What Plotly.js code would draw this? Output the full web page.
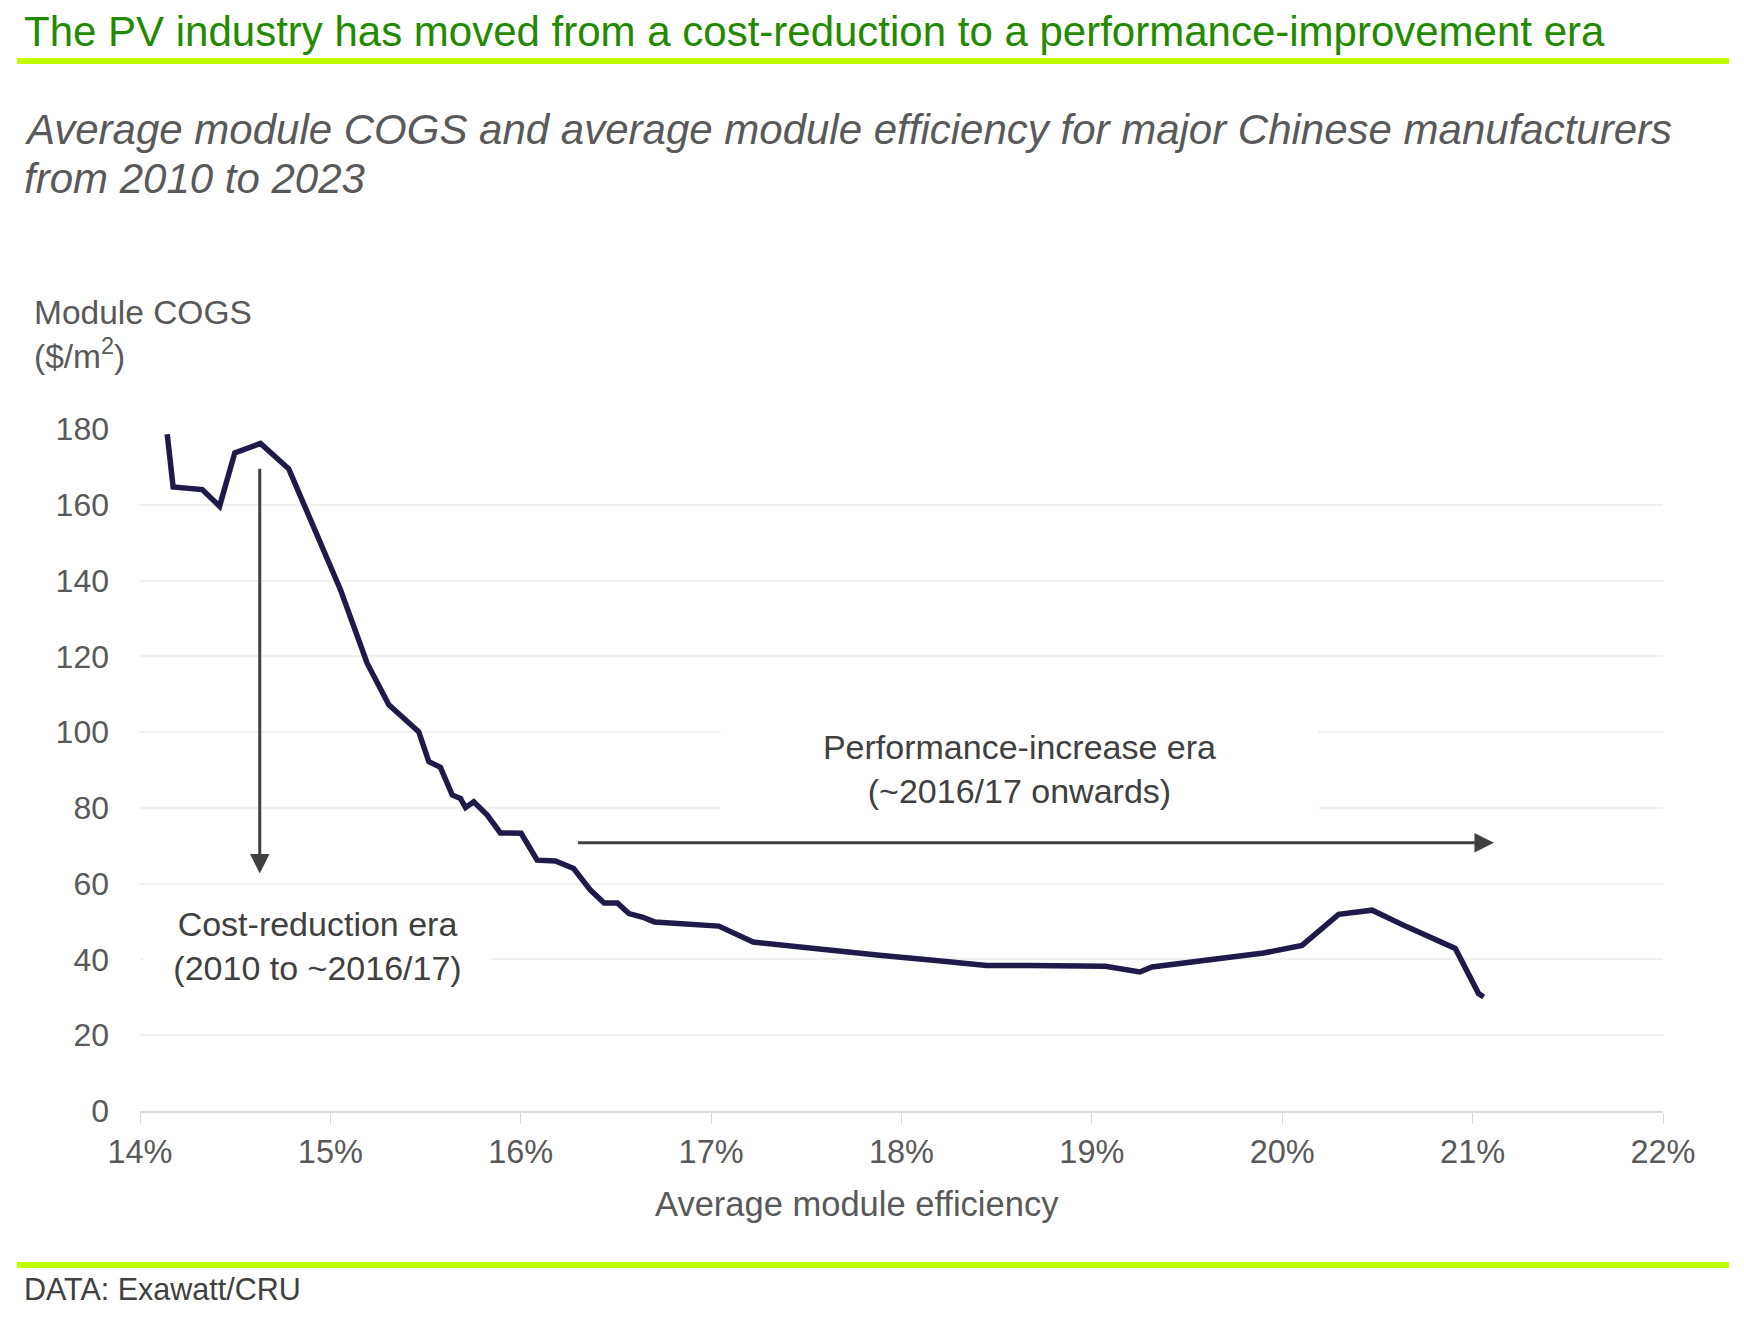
<!DOCTYPE html>
<html>
<head>
<meta charset="utf-8">
<script src="https://cdn.plot.ly/plotly-3.0.1.min.js"></script>
<style>html,body{margin:0;padding:0;background:#fff;}#chart{width:1744px;height:1317px;}</style>
</head>
<body>
<div id="chart"></div>
<script>
// Average module efficiency (%) and average module COGS ($/m2), major Chinese manufacturers, 2010-2023
const efficiency = [14.143, 14.174, 14.327, 14.418, 14.498, 14.633, 14.781, 14.913, 15.053, 15.193,
  15.307, 15.464, 15.517, 15.578, 15.640, 15.683, 15.710, 15.753, 15.824, 15.893,
  16.002, 16.086, 16.182, 16.278, 16.366, 16.438, 16.508, 16.568, 16.638, 16.703,
  16.839, 17.040, 17.221, 17.402, 17.643, 17.884, 18.166, 18.447, 18.669, 19.070,
  19.252, 19.316, 19.902, 20.104, 20.296, 20.472, 20.655, 20.909, 21.031, 21.058];
const cogs = [178.6, 164.7, 164.0, 159.6, 173.7, 176.2, 169.5, 154.3, 137.6, 118.2,
  107.2, 100.1, 92.2, 90.7, 83.4, 82.5, 80.1, 81.6, 78.1, 73.4,
  73.3, 66.2, 66.0, 64.0, 58.3, 54.9, 54.9, 52.1, 51.2, 49.9,
  49.6, 48.8, 44.6, 43.6, 42.4, 41.1, 39.8, 38.4, 38.4, 38.2,
  36.7, 38.0, 41.7, 43.7, 51.9, 53.0, 48.6, 42.9, 31.0, 30.1];
const xTicks = [14, 15, 16, 17, 18, 19, 20, 21, 22];
const yTicks = [0, 20, 40, 60, 80, 100, 120, 140, 160, 180];

const titleText = 'The PV industry has moved from a cost-reduction to a performance-improvement era';
const subtitleLine1 = 'Average module COGS and average module efficiency for major Chinese manufacturers';
const subtitleLine2 = 'from 2010 to 2023';
const yTitleLine1 = 'Module COGS';
const yTitleLine2 = '($/m<sup>2</sup>)';
const xTitleText = 'Average module efficiency';
const sourceText = 'DATA: Exawatt/CRU';
const costLabel = 'Cost-reduction era<br>(2010 to ~2016/17)';
const perfLabel = 'Performance-increase era<br>(~2016/17 onwards)';
// annotation anchor values (data units)
const costArrow = {x: 14.629, from: 169.9, to: 62.7};
const perfArrow = {y: 70.8, from: 16.293, to: 21.112};
const costText = {x: 14.93, y: 43.66};
const perfText = {x: 18.618, y: 90.3};

const W = 1744, H = 1317;
const M = {l: 140, r: 81, t: 429, b: 206};
const PW = W - M.l - M.r, PH = H - M.t - M.b;
const px = v => (v - M.l) / PW;
const py = v => (H - M.b - v) / PH;

const FONT = 'Liberation Sans, Arial, sans-serif';
const GREEN = '#bfff00';

const trace = {
  x: efficiency, y: cogs, type: 'scatter', mode: 'lines',
  line: {color: '#1e1b4b', width: 5.5, shape: 'linear'},
  hoverinfo: 'x+y', showlegend: false
};

function label(x, y, text, size, color, extra) {
  return Object.assign({xref: 'paper', yref: 'paper', x: px(x), y: py(y), xanchor: 'left', yanchor: 'middle',
    align: 'left', text: text, showarrow: false, font: {family: FONT, size: size, color: color}}, extra || {});
}

const annotations = [
  label(22, 31, titleText, 42, '#238a00'),
  label(22, 130, '<i>' + subtitleLine1 + '</i>', 42, '#595959'),
  label(22, 178, '<i>' + subtitleLine2 + '</i>', 42, '#595959'),
  label(32, 313, yTitleLine1, 33.5, '#595959'),
  label(32, 354, yTitleLine2, 33.5, '#595959'),
  label(857, 1204, xTitleText, 34.5, '#595959', {xanchor: 'center'}),
  label(22, 1289, sourceText, 30.5, '#404040'),
  // white label boxes (mask gridlines behind text)
  {xref: 'x', yref: 'y', x: costText.x, y: costText.y, xanchor: 'center', yanchor: 'middle',
   text: costLabel, showarrow: false, bgcolor: '#ffffff', borderpad: 0, width: 347, height: 84,
   font: {family: FONT, size: 34, color: '#404040'}},
  {xref: 'x', yref: 'y', x: perfText.x, y: perfText.y, xanchor: 'center', yanchor: 'middle',
   text: perfLabel, showarrow: false, bgcolor: '#ffffff', borderpad: 0, width: 597, height: 92,
   font: {family: FONT, size: 34, color: '#404040'}},
  // arrows
  {xref: 'x', yref: 'y', axref: 'x', ayref: 'y', x: costArrow.x, y: costArrow.to,
   ax: costArrow.x, ay: costArrow.from, text: '', showarrow: true,
   arrowhead: 2, arrowsize: 1.3, arrowwidth: 3, arrowcolor: '#404040', standoff: 0, startstandoff: 0},
  {xref: 'x', yref: 'y', axref: 'x', ayref: 'y', x: perfArrow.to, y: perfArrow.y,
   ax: perfArrow.from, ay: perfArrow.y, text: '', showarrow: true,
   arrowhead: 2, arrowsize: 1.3, arrowwidth: 3, arrowcolor: '#404040', standoff: 0, startstandoff: 0}
];

const shapes = [
  {type: 'rect', xref: 'paper', yref: 'paper', x0: px(17), x1: px(1729), y0: py(58), y1: py(64),
   fillcolor: GREEN, line: {width: 0}},
  {type: 'rect', xref: 'paper', yref: 'paper', x0: px(17), x1: px(1729), y0: py(1262), y1: py(1268),
   fillcolor: GREEN, line: {width: 0}}
];

const layout = {
  width: W, height: H,
  margin: M,
  paper_bgcolor: '#ffffff', plot_bgcolor: '#ffffff',
  font: {family: FONT, color: '#595959'},
  showlegend: false,
  xaxis: {
    range: [14, 22], tickvals: xTicks, ticktext: xTicks.map(v => v + '%'),
    showgrid: false, zeroline: false,
    showline: true, linecolor: '#d9d9d9', linewidth: 2,
    ticks: 'outside', ticklen: 11, tickwidth: 1, tickcolor: '#d9d9d9',
    tickfont: {family: FONT, size: 32.5, color: '#595959'},
    fixedrange: true
  },
  yaxis: {
    range: [0, 180], tickvals: yTicks, ticktext: yTicks.map(String),
    showgrid: true, gridcolor: '#f0f0f0', gridwidth: 2, zeroline: false,
    showline: false, ticks: '', ticklabelstandoff: 30,
    tickfont: {family: FONT, size: 32, color: '#595959'},
    fixedrange: true
  },
  annotations: annotations,
  shapes: shapes
};

Plotly.newPlot('chart', [trace], layout, {displayModeBar: false, staticPlot: true});
</script>
</body>
</html>
